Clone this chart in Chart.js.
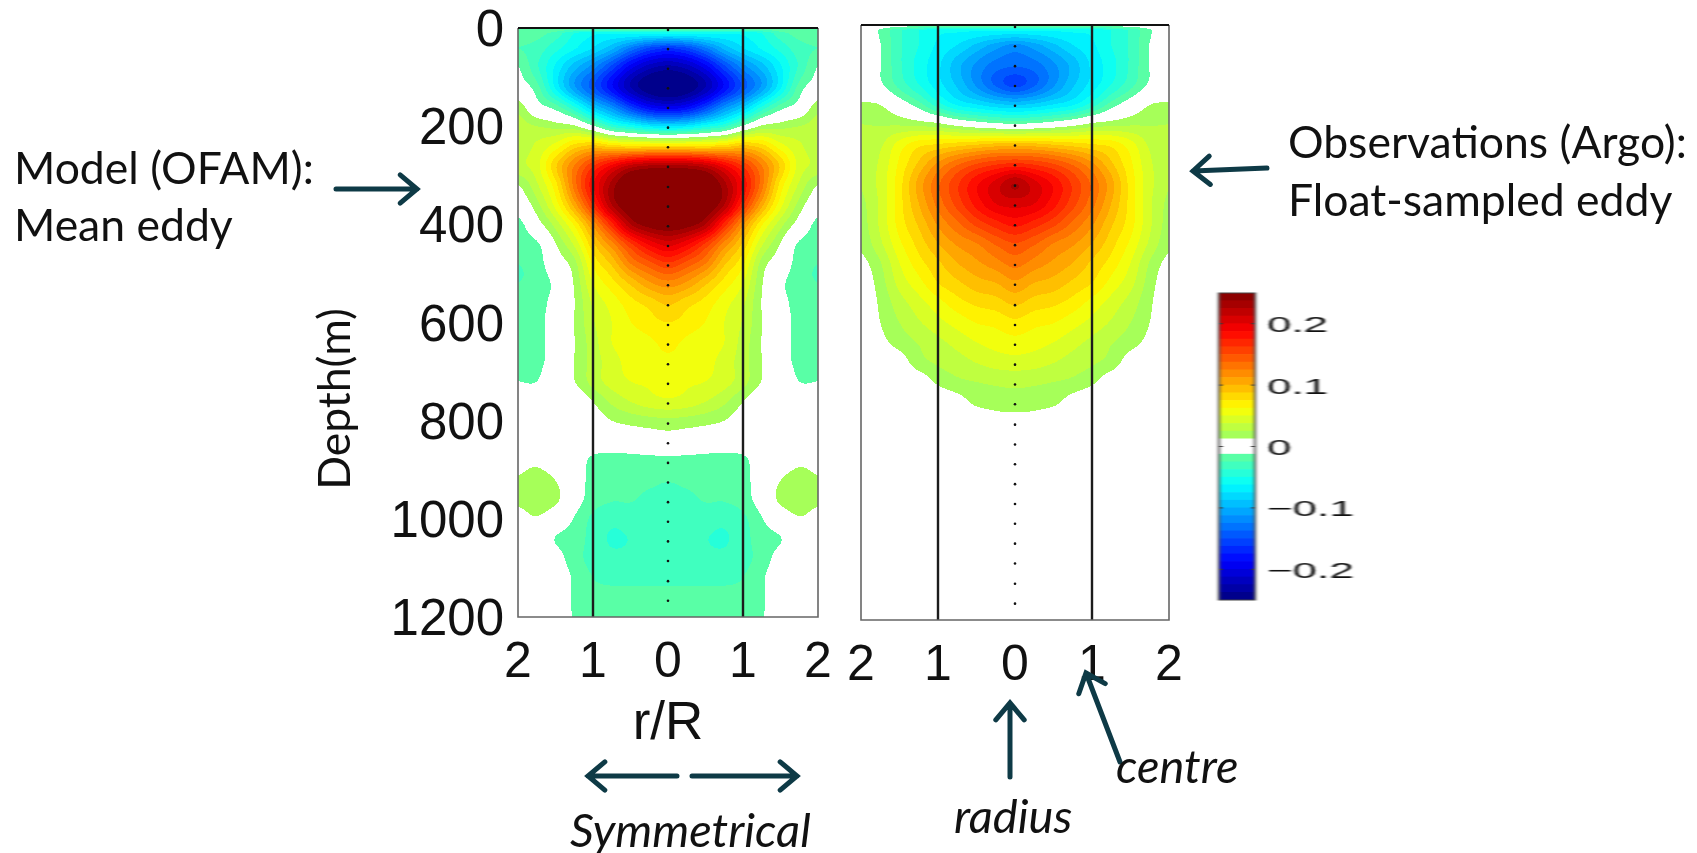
<!DOCTYPE html>
<html>
<head>
<meta charset="utf-8">
<title>Mean eddy vs float-sampled eddy</title>
<script src="https://cdn.jsdelivr.net/npm/chart.js@4"></script>
<style>
  html, body { margin: 0; padding: 0; background: #fff; }
  body { position: relative; width: 1697px; height: 853px; overflow: hidden; }
  canvas { position: absolute; filter: blur(0.5px); }
  #cbWrap { position: absolute; left: 1215px; top: 283px; transform: scaleX(2); transform-origin: left top; }
  #cbWrap canvas { position: static; display: block; }
  svg { position: absolute; left: 0; top: 0; }
  .note { position: absolute; font-family: Lato, sans-serif; font-size: 44.5px; color: #111; white-space: nowrap; line-height: 1; }
  .it { font-style: italic; font-size: 47px; }
</style>
</head>
<body>
<canvas id="modelChart" width="540" height="765" style="left:300px;top:0"></canvas>
<canvas id="argoChart" width="350" height="700" style="left:840px;top:0"></canvas>
<div id="cbWrap"><canvas id="colorbar" width="70" height="330"></canvas></div>
<svg id="arrows" width="1697" height="853"></svg>

<div class="note" style="left:14px;top:145px">Model (OFAM):</div>
<div class="note" style="left:14px;top:202px">Mean eddy</div>
<div class="note" style="left:1288px;top:119px">Observations (Argo):</div>
<div class="note" style="left:1288px;top:177px">Float-sampled eddy</div>
<div class="note it" style="left:570px;top:806px">Symmetrical</div>
<div class="note it" style="left:954px;top:792px">radius</div>
<div class="note it" style="left:1116px;top:742px">centre</div>
<div class="note" style="left:333px;top:399px;transform:translate(-50%,-50%) rotate(-90deg)">Depth(m)</div>

<script>
// depth rows (m) and radius columns (r/R) of the two temperature sections
const fieldDepths = [0, 10, 40, 80, 120, 160, 200, 240, 280, 320, 360, 400, 440, 480, 520, 560, 600,
  640, 680, 720, 760, 800, 840, 880, 920, 960, 1000, 1040, 1080, 1120, 1160, 1200];
const fieldRadii = [0, 0.25, 0.5, 0.75, 1, 1.25, 1.5, 1.75, 2];

// both sections are symmetrical so only r >= 0 is kept
const modelValues = [
  [-0.01, -0.01, -0.01, -0.01, -0.01, -0.01, -0.01, -0.01, -0.01],
  [-0.055, -0.055, -0.055, -0.06, -0.06, -0.05, -0.03, -0.02, -0.02],
  [-0.16, -0.15, -0.125, -0.095, -0.075, -0.06, -0.045, -0.03, -0.025],
  [-0.23, -0.22, -0.195, -0.155, -0.12, -0.095, -0.065, -0.035, -0.012],
  [-0.26, -0.25, -0.225, -0.185, -0.145, -0.11, -0.065, -0.02, -0.005],
  [-0.2, -0.19, -0.16, -0.12, -0.09, -0.05, -0.02, -0.005, 0.02],
  [-0.075, -0.07, -0.055, -0.04, -0.01, 0.015, 0.02, 0.025, 0.03],
  [0.075, 0.075, 0.075, 0.08, 0.09, 0.08, 0.055, 0.04, 0.03],
  [0.225, 0.225, 0.215, 0.19, 0.16, 0.125, 0.085, 0.045, 0.035],
  [0.265, 0.265, 0.26, 0.23, 0.185, 0.13, 0.07, 0.035, 0.012],
  [0.265, 0.265, 0.255, 0.225, 0.165, 0.105, 0.055, 0.02, 0],
  [0.25, 0.245, 0.225, 0.17, 0.115, 0.065, 0.03, 0.005, -0.018],
  [0.205, 0.19, 0.16, 0.12, 0.085, 0.04, 0.012, -0.015, -0.02],
  [0.16, 0.145, 0.125, 0.09, 0.065, 0.02, 0.002, -0.02, -0.025],
  [0.12, 0.11, 0.09, 0.07, 0.05, 0.014, -0.008, -0.022, -0.025],
  [0.09, 0.08, 0.07, 0.055, 0.04, 0.012, -0.005, -0.02, -0.022],
  [0.075, 0.07, 0.062, 0.05, 0.036, 0.013, 0, -0.02, -0.022],
  [0.066, 0.06, 0.055, 0.05, 0.032, 0.012, -0.004, -0.018, -0.02],
  [0.06, 0.058, 0.054, 0.045, 0.03, 0.0125, -0.005, -0.016, -0.018],
  [0.055, 0.052, 0.05, 0.043, 0.03, 0.012, 0, -0.0125, -0.0125],
  [0.048, 0.045, 0.038, 0.028, 0.013, 0, 0, -0.003, -0.003],
  [0.022, 0.02, 0.017, 0.0125, 0.004, 0, 0, 0, 0],
  [0.004, 0.002, 0, 0, 0, 0, 0, 0, 0],
  [-0.016, -0.016, -0.017, -0.018, -0.016, -0.002, 0, 0.008, 0.005],
  [-0.024, -0.022, -0.022, -0.022, -0.018, -0.002, 0.012, 0.02, 0.014],
  [-0.031, -0.028, -0.024, -0.024, -0.019, -0.004, 0.016, 0.022, 0.016],
  [-0.032, -0.032, -0.032, -0.034, -0.028, -0.0135, 0, 0.011, 0.005],
  [-0.033, -0.034, -0.037, -0.039, -0.03, -0.018, -0.013, 0, 0],
  [-0.033, -0.033, -0.034, -0.034, -0.029, -0.02, -0.006, 0, 0],
  [-0.027, -0.027, -0.027, -0.027, -0.025, -0.015, 0, 0, 0],
  [-0.023, -0.023, -0.023, -0.023, -0.021, -0.015, 0, 0, 0],
  [-0.022, -0.022, -0.022, -0.022, -0.02, -0.014, 0, 0, 0]
];
const argoValues = [
  [0, 0, 0, 0, 0, 0, 0, 0, 0],
  [-0.06, -0.06, -0.06, -0.06, -0.06, -0.05, -0.035, -0.015, 0],
  [-0.115, -0.105, -0.09, -0.075, -0.065, -0.05, -0.035, -0.012, 0],
  [-0.135, -0.13, -0.115, -0.095, -0.072, -0.055, -0.035, -0.012, 0],
  [-0.155, -0.14, -0.115, -0.09, -0.07, -0.05, -0.03, -0.01, 0],
  [-0.09, -0.085, -0.075, -0.065, -0.045, -0.02, -0.003, 0.012, 0.014],
  [-0.011, -0.008, -0.002, 0.006, 0.016, 0.02, 0.023, 0.024, 0.025],
  [0.09, 0.09, 0.085, 0.08, 0.075, 0.07, 0.055, 0.035, 0.027],
  [0.165, 0.16, 0.15, 0.135, 0.115, 0.09, 0.065, 0.04, 0.028],
  [0.225, 0.205, 0.185, 0.16, 0.135, 0.105, 0.07, 0.042, 0.026],
  [0.205, 0.2, 0.18, 0.155, 0.13, 0.1, 0.07, 0.04, 0.022],
  [0.18, 0.17, 0.155, 0.135, 0.115, 0.09, 0.068, 0.04, 0.02],
  [0.15, 0.14, 0.125, 0.115, 0.1, 0.08, 0.06, 0.035, 0.016],
  [0.13, 0.12, 0.11, 0.1, 0.085, 0.07, 0.05, 0.024, 0.008],
  [0.11, 0.1, 0.095, 0.085, 0.075, 0.058, 0.042, 0.019, 0.002],
  [0.09, 0.082, 0.078, 0.07, 0.058, 0.045, 0.032, 0.015, 0],
  [0.072, 0.066, 0.063, 0.055, 0.046, 0.036, 0.025, 0.0125, 0],
  [0.058, 0.055, 0.05, 0.042, 0.034, 0.026, 0.018, 0.008, 0],
  [0.045, 0.043, 0.038, 0.032, 0.027, 0.02, 0.005, 0, 0],
  [0.028, 0.027, 0.025, 0.022, 0.015, 0.003, 0, 0, 0],
  [0.02, 0.019, 0.016, 0.006, 0, 0, 0, 0, 0],
  [0.006, 0.005, 0, 0, 0, 0, 0, 0, 0],
  [0, 0, 0, 0, 0, 0, 0, 0, 0],
  [0, 0, 0, 0, 0, 0, 0, 0, 0],
  [0, 0, 0, 0, 0, 0, 0, 0, 0],
  [0, 0, 0, 0, 0, 0, 0, 0, 0],
  [0, 0, 0, 0, 0, 0, 0, 0, 0],
  [0, 0, 0, 0, 0, 0, 0, 0, 0],
  [0, 0, 0, 0, 0, 0, 0, 0, 0],
  [0, 0, 0, 0, 0, 0, 0, 0, 0],
  [0, 0, 0, 0, 0, 0, 0, 0, 0],
  [0, 0, 0, 0, 0, 0, 0, 0, 0]
];

// the dotted line at r = 0 (sampling depths) and the r/R = 1 lines
const sampleDepths = [4, 43, 83, 123, 163, 203, 243, 283, 324, 364, 404, 444, 484, 524, 565, 605,
  645, 685, 725, 765, 806, 846, 886, 926, 966, 1006, 1046, 1086, 1127, 1167];
const radiusLines = [-1, 1];
const depthRange = [0, 1200];

const rTicks = [-2, -1, 0, 1, 2];
const depthTicks = [0, 200, 400, 600, 800, 1000, 1200];
const colorTicks = [-0.2, -0.1, 0, 0.1, 0.2];
const colorMin = -0.25;
const colorMax = 0.25;
const colorStep = 0.0125;

// jet colormap, split in 40 levels, the two around zero are white
function jet(t) {
  const c = x => Math.round(255 * Math.max(0, Math.min(1, 1.5 - Math.abs(x))));
  return [c(4 * t - 3), c(4 * t - 2), c(4 * t - 1)];
}
const levelCount = Math.round((colorMax - colorMin) / colorStep);
const palette = [];
for (let i = 0; i < levelCount; i++) {
  if (i === 19 || i === 20) palette.push([255, 255, 255]);
  else palette.push(jet((i + 0.5) / levelCount));
}

function cubic(a, b, c, d, t) {
  return b + 0.5 * t * (c - a + t * (2 * a - 5 * b + 4 * c - d + t * (3 * (b - c) + d - a)));
}

// value of a section at (r, depth), smooth blend of the rows and columns above
function sample(values, r, depth) {
  const u = Math.abs(r) / 0.25;
  const c = Math.min(Math.floor(u), fieldRadii.length - 2);
  const tc = u - c;
  const col = i => (i < 0 ? -i : Math.min(i, fieldRadii.length - 1));
  const rowAt = k => {
    const row = values[Math.max(0, Math.min(k, fieldDepths.length - 1))];
    return cubic(row[col(c - 1)], row[col(c)], row[col(c + 1)], row[col(c + 2)], tc);
  };
  let k = 0;
  while (k < fieldDepths.length - 2 && fieldDepths[k + 1] <= depth) k++;
  const td = (depth - fieldDepths[k]) / (fieldDepths[k + 1] - fieldDepths[k]);
  if (k < 2) return rowAt(k) + (rowAt(k + 1) - rowAt(k)) * td;
  return cubic(rowAt(k - 1), rowAt(k), rowAt(k + 1), rowAt(k + 2), td);
}

// paints the section under the lines, pixel by pixel through the chart scales
const fieldPlugin = {
  id: 'field',
  beforeDatasetsDraw(chart, args, opts) {
    const { ctx, chartArea: a, scales } = chart;
    const left = Math.round(a.left), top = Math.round(a.top);
    const w = Math.round(a.right) - left, h = Math.round(a.bottom) - top;
    const img = ctx.createImageData(w, h);
    for (let y = 0; y < h; y++) {
      const depth = scales.y.getValueForPixel(top + y + 0.5);
      for (let x = 0; x < w; x++) {
        const r = scales.x.getValueForPixel(left + x + 0.5);
        const v = sample(opts.values, r, depth);
        const i = Math.max(0, Math.min(levelCount - 1, Math.floor((v - colorMin) / colorStep)));
        const p = (y * w + x) * 4;
        img.data[p] = palette[i][0];
        img.data[p + 1] = palette[i][1];
        img.data[p + 2] = palette[i][2];
        img.data[p + 3] = 255;
      }
    }
    ctx.putImageData(img, left, top);
  }
};

// frame: heavy top edge, grey on the other sides
const framePlugin = {
  id: 'frame',
  afterDraw(chart) {
    const { ctx, chartArea: a } = chart;
    ctx.save();
    ctx.lineWidth = 1.6;
    ctx.strokeStyle = '#666';
    ctx.beginPath();
    ctx.moveTo(a.left, a.top);
    ctx.lineTo(a.left, a.bottom);
    ctx.lineTo(a.right, a.bottom);
    ctx.lineTo(a.right, a.top);
    ctx.stroke();
    ctx.lineWidth = 2;
    ctx.strokeStyle = '#111';
    ctx.beginPath();
    ctx.moveTo(a.left, a.top);
    ctx.lineTo(a.right, a.top);
    ctx.stroke();
    ctx.restore();
  }
};

// labels hang over the plot edges, the layout should not shrink the plot for them
function noLabelPadding(s) {
  s.paddingLeft = s.paddingRight = s.paddingTop = s.paddingBottom = 0;
}

function panel(id, values, padding, yShown, xHeight, xTitle) {
  const datasets = radiusLines.map(r => ({
    label: 'r/R = ' + r,
    data: depthRange.map(d => ({ x: r, y: d })),
    showLine: true,
    borderColor: '#1c1c1c',
    borderWidth: 2.4,
    pointRadius: 0
  }));
  datasets.push({
    label: 'samples',
    data: sampleDepths.map(d => ({ x: 0, y: d })),
    pointRadius: 1.3,
    pointBackgroundColor: '#111',
    pointBorderWidth: 0
  });
  return new Chart(document.getElementById(id), {
    type: 'scatter',
    data: { datasets },
    plugins: [fieldPlugin, framePlugin],
    options: {
      responsive: false,
      animation: false,
      devicePixelRatio: 1,
      layout: { padding },
      plugins: { legend: { display: false }, tooltip: { enabled: false }, field: { values } },
      scales: {
        x: {
          min: -2, max: 2,
          grid: { display: false, drawTicks: false },
          border: { display: false },
          afterBuildTicks: s => { s.ticks = rTicks.map(v => ({ value: v })); },
          afterFit: s => { s.height = xHeight; noLabelPadding(s); },
          ticks: {
            padding: 21, maxRotation: 0, color: '#111',
            font: { family: 'Liberation Sans', size: 50, lineHeight: 1 },
            callback: v => String(Math.abs(v))
          },
          title: {
            display: !!xTitle, text: xTitle, color: '#111', padding: 0,
            font: { family: 'Liberation Sans', size: 53 }
          }
        },
        y: {
          display: yShown,
          reverse: true,
          min: 0, max: 1200,
          grid: { display: false, drawTicks: false },
          border: { display: false },
          afterBuildTicks: s => { s.ticks = depthTicks.map(v => ({ value: v })); },
          afterFit: s => { if (yShown) s.width = 140; noLabelPadding(s); },
          ticks: {
            padding: 14, labelOffset: 4, color: '#111',
            font: { family: 'Liberation Sans', size: 51, lineHeight: 1 },
            callback: v => String(v)
          }
        }
      }
    }
  });
}

panel('modelChart', modelValues, { left: 78, right: 22, top: 28, bottom: 9 }, true, 139, 'r/R');
panel('argoChart', argoValues, { left: 21, right: 21, top: 25, bottom: 11 }, false, 69, '');

// colour bar: one floating bar per contour level
const levelLows = palette.map((c, i) => colorMin + i * colorStep);
const colorbarMarks = {
  id: 'colorbarMarks',
  afterDraw(chart) {
    const { ctx, chartArea: a, scales } = chart;
    ctx.save();
    ctx.strokeStyle = '#333';
    ctx.lineWidth = 1;
    colorTicks.forEach(v => {
      const y = scales.y.getPixelForValue(v);
      ctx.beginPath();
      ctx.moveTo(a.left, y); ctx.lineTo(a.left + 2, y);
      ctx.moveTo(a.right, y); ctx.lineTo(a.right - 2, y);
      ctx.stroke();
    });
    ctx.lineWidth = 1;
    ctx.strokeStyle = '#444';
    ctx.strokeRect(a.left, a.top, a.right - a.left, a.bottom - a.top);
    ctx.restore();
  }
};
new Chart(document.getElementById('colorbar'), {
  type: 'bar',
  data: {
    labels: [''],
    datasets: levelLows.map((lo, i) => ({
      data: [[lo, lo + colorStep]],
      backgroundColor: `rgb(${palette[i].join(',')})`,
      borderWidth: 0,
      grouped: false,
      barPercentage: 1,
      categoryPercentage: 1
    }))
  },
  plugins: [colorbarMarks],
  options: {
    responsive: false,
    animation: false,
    devicePixelRatio: 1,
    layout: { padding: { left: 2, right: 0, top: 10, bottom: 13 } },
    plugins: { legend: { display: false }, tooltip: { enabled: false } },
    scales: {
      x: { display: false },
      y: {
        position: 'right',
        min: colorMin, max: colorMax,
        grid: { display: false, drawTicks: false },
        border: { display: false },
        afterBuildTicks: s => { s.ticks = colorTicks.map(v => ({ value: v })); },
        afterFit: s => { s.width = 50; noLabelPadding(s); },
        ticks: {
          padding: 6, labelOffset: 2.5, color: '#111',
          font: { family: 'Liberation Sans', size: 22, lineHeight: 1 },
          callback: v => (v === 0 ? '0' : String(Math.round(v * 10) / 10).replace('-', '\u2212'))
        }
      }
    }
  }
});

// slide arrows: from x1,y1 to the head at x2,y2
const arrowSegments = [
  [336, 189, 417, 189],
  [1267, 168, 1193, 171],
  [677, 776, 588, 776],
  [692, 776, 797, 776],
  [1010, 777, 1010, 703],
  [1120, 762, 1086, 673]
];
const svg = document.getElementById('arrows');
arrowSegments.forEach(([x1, y1, x2, y2]) => {
  const ang = Math.atan2(y2 - y1, x2 - x1);
  const hx = a => x2 - 22 * Math.cos(ang + a);
  const hy = a => y2 - 22 * Math.sin(ang + a);
  const path = document.createElementNS('http://www.w3.org/2000/svg', 'path');
  path.setAttribute('d', `M${x1} ${y1}L${x2} ${y2}M${hx(0.7)} ${hy(0.7)}L${x2} ${y2}L${hx(-0.7)} ${hy(-0.7)}`);
  path.setAttribute('fill', 'none');
  path.setAttribute('stroke', '#0e3a46');
  path.setAttribute('stroke-width', '5');
  path.setAttribute('stroke-linecap', 'round');
  svg.appendChild(path);
});
</script>
</body>
</html>
